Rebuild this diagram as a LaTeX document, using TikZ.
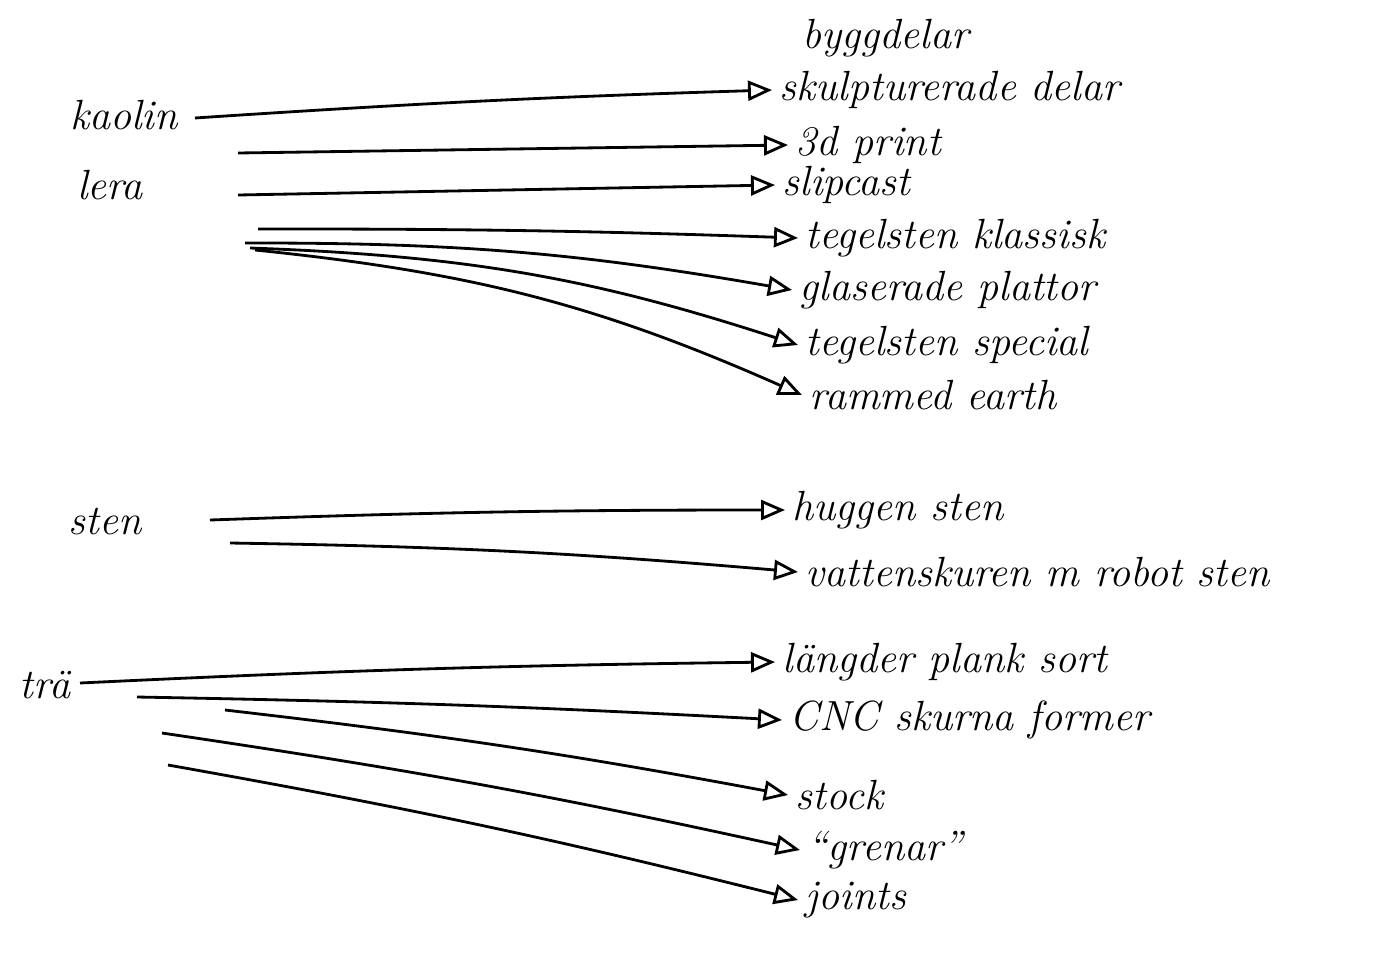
\documentclass[tikz,border=0pt]{standalone}
\usetikzlibrary{arrows.meta}

\begin{document}
\begin{tikzpicture}[
  every node/.style={font=\fontsize{12}{14}\selectfont\itshape},
  mat/.style={inner sep=1pt},
  use/.style={anchor=west, inner sep=2pt},
  flow/.style={-{Triangle[open, length=2.4mm, width=2mm]}, line width=0.8pt}
]
\useasboundingbox (0,0) rectangle (13.75,-9.64);

% materials
\node[mat] (kaolin) at (1.24,-1.15) {kaolin};
\node[mat] (lera) at (1.1,-1.85) {lera};
\node[mat] (sten) at (1.05,-5.22) {sten};
\node[mat] (tra) at (0.45,-6.85) {trä};

% start points of the lines
\coordinate (k1) at (1.95,-1.18);
\coordinate (k2) at (2.38,-1.53);
\coordinate (k3) at (2.38,-1.95);
\coordinate (k4) at (2.58,-2.29);
\coordinate (k5) at (2.45,-2.43);
\coordinate (k6) at (2.5,-2.48);
\coordinate (k7) at (2.55,-2.5);
\coordinate (s1) at (2.1,-5.2);
\coordinate (s2) at (2.3,-5.43);
\coordinate (t1) at (0.8,-6.83);
\coordinate (t2) at (1.37,-6.97);
\coordinate (t3) at (2.25,-7.1);
\coordinate (t4) at (1.62,-7.33);
\coordinate (t5) at (1.68,-7.65);

% uses
\node[use] (bygg) at (7.95,-0.38) {byggdelar};
\node[use] (skulp) at (7.72,-0.9) {skulpturerade delar};
\node[use] (print) at (7.88,-1.45) {3d print};
\node[use] (slip) at (7.75,-1.85) {slipcast};
\node[use] (tegelk) at (7.98,-2.38) {tegelsten klassisk};
\node[use] (glas) at (7.92,-2.9) {glaserade plattor};
\node[use] (tegels) at (7.98,-3.45) {tegelsten special};
\node[use] (rammed) at (8.02,-3.95) {rammed earth};
\node[use] (huggen) at (7.85,-5.1) {huggen sten};
\node[use] (vatten) at (7.98,-5.72) {vattenskuren m robot sten};
\node[use] (langd) at (7.75,-6.62) {längder plank sort};
\node[use] (cnc) at (7.82,-7.2) {CNC skurna former};
\node[use] (stock) at (7.88,-7.95) {stock};
\node[use] (grenar) at (8.0,-8.5) {``grenar''};
\node[use] (joints) at (7.98,-9.0) {joints};

\draw[flow] (k1) to[bend left=1] (skulp.west);
\draw[flow] (k2) -- (print.west);
\draw[flow] (k3) -- (slip.west);
\draw[flow] (k4) to[bend left=1] (tegelk.west);
\draw[flow] (k5) to[bend left=5] (glas.west);
\draw[flow] (k6) to[bend left=8] (tegels.west);
\draw[flow] (k7) to[bend left=9] (rammed.west);

\draw[flow] (s1) to[bend left=1] (huggen.west);
\draw[flow] (s2) to[bend left=2] (vatten.west);

\draw[flow] (t1) to[bend left=1] (langd.west);
\draw[flow] (t2) to[bend left=1] (cnc.west);
\draw[flow] (t3) to[bend left=2] (stock.west);
\draw[flow] (t4) to[bend left=2] (grenar.west);
\draw[flow] (t5) to[bend left=2] (joints.west);

\end{tikzpicture}
\end{document}
